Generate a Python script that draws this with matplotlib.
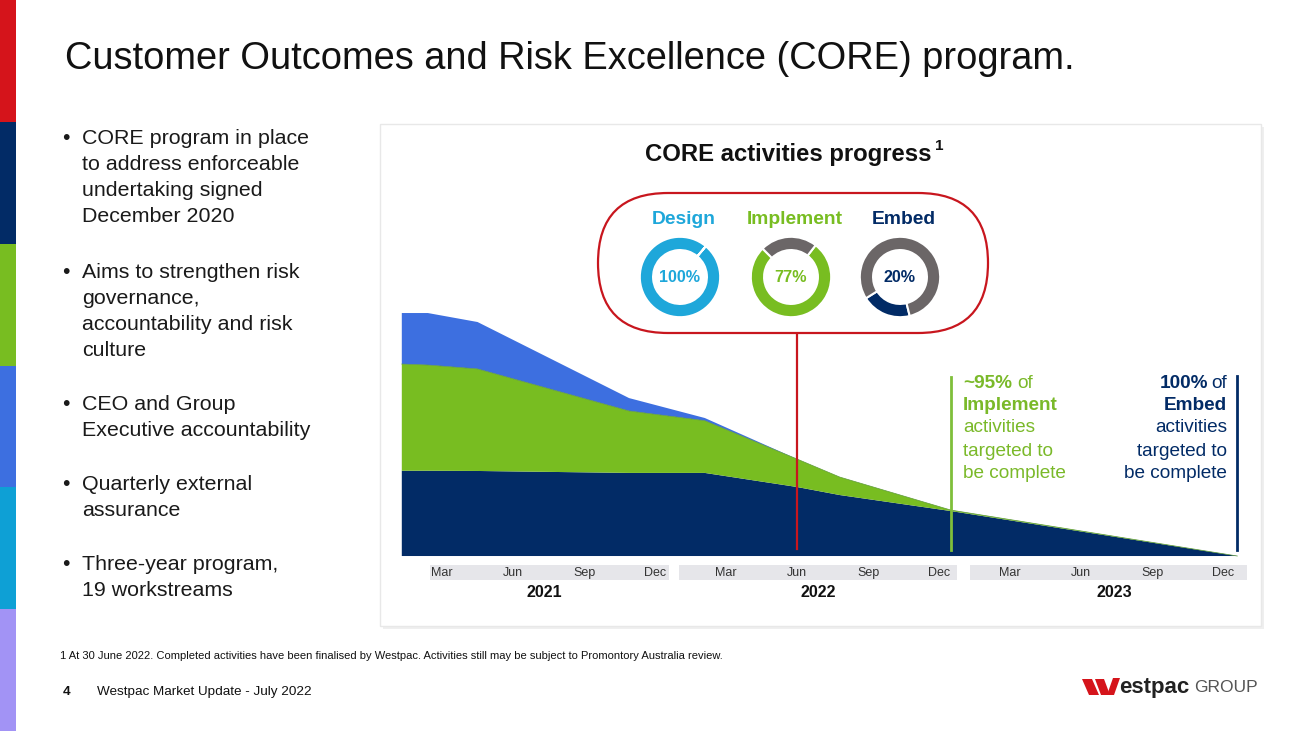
import matplotlib
matplotlib.use("Agg")
import matplotlib.pyplot as plt
from matplotlib.patches import Rectangle, FancyBboxPatch, Polygon

plt.rcParams["font.family"] = ["Liberation Sans", "DejaVu Sans"]

# colours
RED = "#d5141b"
NAVY = "#022b66"
GREEN = "#78bd21"
BLUE = "#3d6fe0"
CYAN = "#1ea7da"
LAV = "#a293f5"
GREY = "#6b6667"

# remaining activities (index, 100 = start), by month since Jan 2021
months = [0.3, 1.4, 3.5, 9.9, 13.1, 17.0, 18.8, 23.5, 35.6]
embed_left = [35.1, 35.1, 35.0, 34.2, 34.2, 28.4, 25.1, 18.5, 0.0]
implement_left = [43.9, 43.5, 42.0, 25.5, 21.5, 11.5, 7.4, 0.4, 0.0]
design_left = [21.0, 21.4, 19.3, 5.3, 1.1, 0.0, 0.0, 0.0, 0.0]

# progress donuts
donut_names = ["Design", "Implement", "Embed"]
donut_pct = [100, 77, 20]
donut_colors = [CYAN, GREEN, NAVY]
donut_start = [50, 135, 212]

month_labels = ["Mar", "Jun", "Sep", "Dec"]
month_pos = [2, 5, 8, 11]
years = ["2021", "2022", "2023"]

bullets = [
    ["CORE program in place", "to address enforceable", "undertaking signed", "December 2020"],
    ["Aims to strengthen risk", "governance,", "accountability and risk", "culture"],
    ["CEO and Group", "Executive accountability"],
    ["Quarterly external", "assurance"],
    ["Three-year program,", "19 workstreams"],
]
bullet_y = [139, 272, 404, 485, 565]

NARROW = ["Liberation Sans Narrow", "Liberation Sans"]

W, H = 1300, 731
fig = plt.figure(figsize=(13, 7.31), dpi=100)
bg = fig.add_axes([0, 0, 1, 1])
bg.set_xlim(0, W)
bg.set_ylim(H, 0)
bg.axis("off")

# left colour strip
strip = [RED, NAVY, GREEN, BLUE, "#0ea0d5", LAV]
for i, c in enumerate(strip):
    bg.add_patch(Rectangle((0, i * H / 6), 16, H / 6, color=c, lw=0))

bg.text(65, 59, "Customer Outcomes and Risk Excellence (CORE) program.",
        fontsize=27.4, va="center", ha="left", color="#111111")

for lines, y0 in zip(bullets, bullet_y):
    bg.text(62, y0, "\u2022", fontsize=15.4, va="center", color="#1a1a1a")
    for k, line in enumerate(lines):
        bg.text(82, y0 + 26 * k, line, fontsize=15.4, va="center", color="#1a1a1a")

# panel
bg.add_patch(Rectangle((383, 127), 881, 502, color="#efefef", lw=0))
bg.add_patch(Rectangle((380, 124), 881, 502, facecolor="white", edgecolor="#e8e8e8", lw=1))

bg.text(788, 154, "CORE activities progress", fontsize=17.2, fontweight="bold",
        ha="center", va="center", color="#111111")
bg.text(935, 146, "1", fontsize=11, fontweight="bold", ha="left", va="center", color="#111111")

# pill
bg.add_patch(FancyBboxPatch((598, 193), 390, 140, boxstyle="round,pad=0,rounding_size=70",
                            facecolor="none", edgecolor="#c8161e", lw=1.6))

donut_cx = [680, 791, 900]
label_x = [684, 795, 904]
for name, pct, col, st, cx, lx in zip(donut_names, donut_pct, donut_colors, donut_start,
                                      donut_cx, label_x):
    bg.text(lx, 219, name, fontsize=13.9, fontweight="bold", color=col, ha="center", va="center")
    dax = fig.add_axes([(cx - 41) / W, (H - 277 - 41) / H, 82 / W, 82 / H])
    vals = [pct] if pct == 100 else [pct, 100 - pct]
    cols = [col] if pct == 100 else [col, GREY]
    dax.pie(vals, colors=cols, startangle=st, counterclock=True,
            wedgeprops=dict(width=0.33, edgecolor="white", linewidth=1.5))
    dax.set_xlim(-1.02, 1.02)
    dax.set_ylim(-1.02, 1.02)
    dax.set_aspect("equal")
    dax.text(0, 0, f"{pct}%", fontsize=11.6, fontweight="bold", color=col,
             ha="center", va="center")

# area chart
px_m = 23.67
x0 = 394.7
ax = fig.add_axes([x0 / W, (H - 600) / H, px_m * 36 / W, 300 / H])
ax.patch.set_alpha(0)
ax.set_xlim(0, 36)
ax.set_ylim(-18.1, 105.36)
ax.axis("off")
ax.stackplot(months, embed_left, implement_left, design_left,
             colors=[NAVY, GREEN, BLUE], lw=0)
ax.plot(months, [a + b for a, b in zip(embed_left, implement_left)], color="#5d9a3a", lw=0.5)

ax.plot([17.0, 17.0], [2.9, 91.4], color="#c8161e", lw=1.6)
ax.plot([23.5, 23.5], [2.5, 73.5], color="#7fbf3a", lw=2)
ax.plot([35.6, 35.6], [2.5, 74.0], color=NAVY, lw=2)

band_x = [(1.5, 11.6), (12.0, 23.75), (24.3, 36.0)]
year_x = [6.3, 17.9, 30.4]
for yi, (yr, (b0, b1), yx) in enumerate(zip(years, band_x, year_x)):
    ax.add_patch(Rectangle((b0, -9.9), b1 - b0, 6.2, color="#e6e6ea", lw=0))
    for lab, mp in zip(month_labels, month_pos):
        ax.text(mp + 12 * yi, -6.9, lab, fontsize=9, ha="center", va="center",
                color="#333333", family=NARROW)
    ax.text(yx, -15.2, yr, fontsize=11.5, fontweight="bold", ha="center", va="center",
            color="#111111", family=NARROW)

# annotations
g_lines = ["activities", "targeted to", "be complete"]
AFS = 13.7
bg.text(963, 383, "~95%", fontsize=AFS, fontweight="bold", color="#7ab929", va="center")
bg.text(1017, 383, "of", fontsize=AFS, color="#7ab929", va="center")
bg.text(963, 405, "Implement", fontsize=AFS, fontweight="bold", color="#7ab929", va="center")
for k, t in enumerate(g_lines):
    bg.text(963, 428 + 23 * k, t, fontsize=AFS, color="#7ab929", va="center")

bg.text(1208, 383, "100%", fontsize=AFS, fontweight="bold", color=NAVY, va="center", ha="right")
bg.text(1227, 383, "of", fontsize=AFS, color=NAVY, va="center", ha="right")
bg.text(1227, 405, "Embed", fontsize=AFS, fontweight="bold", color=NAVY, va="center", ha="right")
for k, t in enumerate(g_lines):
    bg.text(1227, 428 + 23 * k, t, fontsize=AFS, color=NAVY, va="center", ha="right")

# footnote and footer
bg.text(60, 656, "1 At 30 June 2022. Completed activities have been finalised by Westpac. "
        "Activities still may be subject to Promontory Australia review.",
        fontsize=8, va="center", color="#111111", family=NARROW)
bg.text(63, 692, "4", fontsize=9.7, fontweight="bold", va="center", color="#111111")
bg.text(97, 692, "Westpac Market Update - July 2022", fontsize=9.7, va="center", color="#111111")

# logo mark
for pts in [[(1082, 679), (1092, 679), (1099, 695), (1089, 695)],
            [(1095, 679), (1104, 679), (1110, 695), (1101, 695)],
            [(1113, 678), (1120, 678), (1114, 695), (1107, 695)]]:
    bg.add_patch(Polygon(pts, closed=True, color="#d5141b", lw=0))
bg.text(1119, 688, "estpac", fontsize=16, fontweight="bold", color="#222222", va="center")
bg.text(1194, 688, "GROUP", fontsize=12.5, color="#555555", va="center")

fig.savefig("out.png", dpi=100)
